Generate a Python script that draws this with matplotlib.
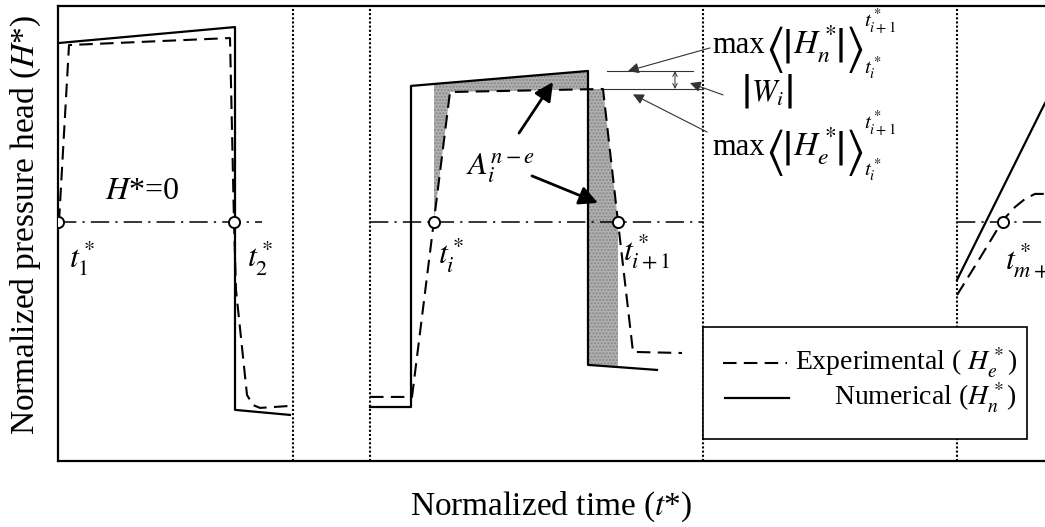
import numpy as np
import matplotlib
matplotlib.use('Agg')
import matplotlib.pyplot as plt
from matplotlib.patches import Polygon, Rectangle

plt.rcParams['font.family'] = ['Liberation Serif', 'DejaVu Serif']
plt.rcParams['mathtext.fontset'] = 'stix'

# first pressure pulse (t1* -> t2*)
t_num1 = [0.0, 17.7, 17.7, 23.2]
h_num1 = [0.994, 1.083, -1.044, -1.072]
t_exp1 = [0.1, 1.1, 17.2, 17.6, 17.8, 18.9, 19.5, 20.2, 23.2]
h_exp1 = [0.0, 0.983, 1.022, 0.0, -0.378, -0.961, -1.017, -1.033, -1.022]

# i-th pulse (ti* -> ti+1*)
t_num2 = [31.2, 35.3, 35.3, 53.0, 53.0, 59.9]
h_num2 = [-1.028, -1.028, 0.756, 0.839, -0.794, -0.822]
t_exp2 = [31.2, 35.4, 39.2, 54.5, 56.0, 57.5, 62.4]
h_exp2 = [-0.972, -0.972, 0.722, 0.739, 0.0, -0.722, -0.728]

# start of the (m+1)-th pulse
t_num3 = [89.9, 98.7]
h_num3 = [-0.322, 0.661]
t_exp3 = [89.9, 92.2, 94.5, 95.7, 96.7, 97.7, 98.7]
h_exp3 = [-0.406, -0.2, 0.011, 0.083, 0.128, 0.156, 0.156]

# zero crossings of the experimental head
t_cross = [0.0, 17.6, 37.6, 56.0, 94.5]
cross_labels = [r'$t_1^*$', r'$t_2^*$', r'$t_i^*$', r'$t_{i+1}^*$', r'$t_{m+1}^*$']

# H*=0 reference segments and the pulse separators
zero_segments = [(0.0, 20.4), (31.2, 64.5), (89.9, 98.7)]
separators = [23.5, 31.2, 64.5, 89.9]

h_max_num = max(h_num2)
h_max_exp = max(h_exp2)


def clip_path(ts, hs, t0, t1):
    # keep the part of a polyline between t0 and t1
    pts = []
    for k in range(len(ts) - 1):
        ta, tb, ha, hb = ts[k], ts[k + 1], hs[k], hs[k + 1]
        if t0 <= ta <= t1 and (not pts or pts[-1] != (ta, ha)):
            pts.append((ta, ha))
        if ta != tb:
            for tc in (t0, t1):
                if min(ta, tb) < tc < max(ta, tb):
                    pts.append((tc, ha + (hb - ha) * (tc - ta) / (tb - ta)))
    if t0 <= ts[-1] <= t1:
        pts.append((ts[-1], hs[-1]))
    return pts


def formula(ax, xy, pieces):
    # lay out a formula piece by piece (pixel offsets from an anchor)
    for s, dx, dy, fs, ha, va in pieces:
        ax.annotate(s, xy=xy, xytext=(dx, dy), textcoords='offset pixels',
                    fontsize=fs, ha=ha, va=va)


fig = plt.figure(figsize=(10.45, 5.27), dpi=100)
ax = fig.add_axes([58 / 1045, 66 / 527, 987 / 1045, 455 / 527])
ax.set_xlim(0, 98.7)
ax.set_ylim(-1.328, 1.2)
ax.set_xticks([])
ax.set_yticks([])
ax.spines['right'].set_visible(False)
for s in ['left', 'top', 'bottom']:
    ax.spines[s].set_linewidth(1.6)

# area between numerical and experimental curves over [ti*, ti+1*]
upper = clip_path(t_num2, h_num2, t_cross[2], t_cross[3])
lower = clip_path(t_exp2, h_exp2, t_cross[2], t_cross[3])
area = Polygon(upper + lower[::-1], closed=True, facecolor='#b0b0b0',
               edgecolor='#858585', hatch='.....', lw=0, zorder=1)
ax.add_patch(area)

for x in separators:
    ax.axvline(x, color='k', lw=1.5, ls=(0, (1, 1)), zorder=2)
for a, b in zero_segments:
    ax.plot([a, b], [0, 0], color='k', lw=1.1, ls=(0, (12, 4, 1.5, 4)), zorder=2)

solid = dict(color='k', lw=1.6, zorder=3)
dashed = dict(color='k', lw=1.5, ls=(0, (6.5, 3.5)), zorder=3)
ax.plot(t_num1, h_num1, **solid)
ax.plot(t_num2, h_num2, **solid)
ax.plot(t_num3, h_num3, **solid)
ax.plot(t_exp1, h_exp1, **dashed)
ax.plot(t_exp2, h_exp2, **dashed)
ax.plot(t_exp3, h_exp3, **dashed)

ax.plot(t_cross, np.zeros(len(t_cross)), 'o', ms=8, mfc='white', mec='k',
        mew=1.4, zorder=5)

label_pos = [(2.4, -0.2, 'center'), (20.2, -0.2, 'center'), (39.3, -0.18, 'center'),
             (58.9, -0.16, 'center'), (94.7, -0.21, 'left')]
for (x, y, ha), lab in zip(label_pos, cross_labels):
    ax.text(x, y, lab, fontsize=23, ha=ha, va='center', clip_on=True)

ax.text(8.4, 0.167, r'$H$*=0', fontsize=23, ha='center', va='center')

# A_i^{n-e} with arrows into the shaded area
ax.text(44.2, 0.3, r'$A_i^{n-e}$', fontsize=23, ha='center', va='center')
thick = dict(arrowstyle='-|>', lw=2.0, color='k', mutation_scale=28, shrinkA=0, shrinkB=0)
ax.annotate('', xy=(49.5, 0.778), xytext=(46.1, 0.494), arrowprops=thick)
ax.annotate('', xy=(54.0, 0.106), xytext=(47.4, 0.256), arrowprops=thick)

# peak difference |W_i|
ax.plot([54.9, 63.5], [h_max_num, h_max_num], color='#333333', lw=0.8)
ax.plot([54.5, 64.5], [h_max_exp, h_max_exp], color='#333333', lw=0.8)
ax.annotate('', xy=(61.7, h_max_num), xytext=(61.7, h_max_exp),
            arrowprops=dict(arrowstyle='<->', lw=0.7, color='#333333',
                            mutation_scale=8, shrinkA=0, shrinkB=0))
thin = dict(arrowstyle='-|>', lw=0.8, color='#333333', mutation_scale=16, shrinkA=0, shrinkB=0)
ax.annotate('', xy=(57.0, h_max_num), xytext=(65.2, 0.967), arrowprops=thin)
ax.annotate('', xy=(63.2, 0.772), xytext=(66.5, 0.706), arrowprops=thin)
ax.annotate('', xy=(57.5, h_max_exp - 0.03), xytext=(64.9, 0.5), arrowprops=thin)

for y, sub in [(0.939, 'n'), (0.372, 'e')]:
    formula(ax, (65.4, y), [
        ('max', 0, 0, 22, 'left', 'baseline'),
        (r'$\langle$', 62, 3, 36, 'center', 'center'),
        (r'$|$', 74, 3, 36, 'center', 'center'),
        (r'$H_%s^*$' % sub, 81, 0, 24, 'left', 'baseline'),
        (r'$|\rangle$', 123, 3, 36, 'left', 'center'),
        (r'$t_{i+1}^*$', 152, 31, 15, 'left', 'center'),
        (r'$t_i^*$', 152, -15, 15, 'left', 'center'),
    ])
formula(ax, (68.7, 0.706), [
    (r'$|$', 0, 0, 36, 'center', 'center'),
    (r'$W_i$', 6, -7, 22, 'left', 'baseline'),
    (r'$|$', 43, 0, 36, 'center', 'center'),
])

# legend box
ax.add_patch(Rectangle((64.5, -1.206), 32.4, 0.623, facecolor='white',
                       edgecolor='k', lw=1.2, zorder=6))
ax.plot([66.5, 72.9], [-0.783, -0.783], color='k', lw=1.5, ls=(0, (6.5, 3.5)), zorder=7)
ax.plot([66.7, 73.1], [-0.978, -0.978], color='k', lw=1.6, zorder=7)
ax.text(95.9, -0.783, r'Experimental ( $H_e^*$)', fontsize=20, ha='right', va='center', zorder=7)
ax.text(95.9, -0.978, r'Numerical ($H_n^*$)', fontsize=20, ha='right', va='center', zorder=7)

ax.set_xlabel(r'Normalized time ($t$*)', fontsize=24)
ax.xaxis.set_label_coords(0.5, -0.062)
ax.set_ylabel(r'Normalized pressure head ($H$*)', fontsize=24)
ax.yaxis.set_label_coords(-0.015, 0.52)

fig.savefig('out.png', dpi=100)
